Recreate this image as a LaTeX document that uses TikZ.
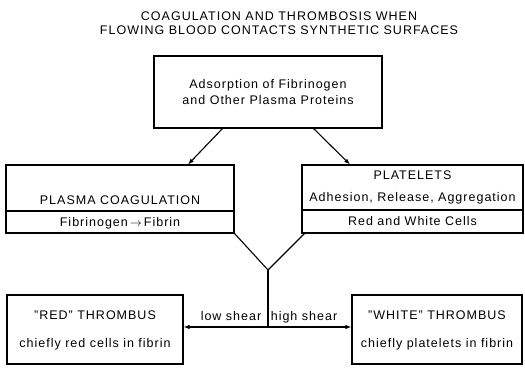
\documentclass[tikz,border=0pt]{standalone}
\usepackage{fontspec}
\setmainfont{Liberation Sans}[LetterSpace=8]
\usetikzlibrary{arrows.meta}
\begin{document}
\begin{tikzpicture}[x=1pt,y=-1pt,
  box/.style={draw,line width=1.2pt,minimum width=#1,inner sep=0pt},
  txt/.style={inner sep=0pt,anchor=base,font=\fontsize{12.5}{14}\selectfont},
  conn/.style={line width=1.1pt},
  arr/.style={line width=1.1pt,-{Latex[length=6pt,width=4.5pt]}},
  every node/.style={font=\fontsize{12.5}{14}\selectfont}]
\useasboundingbox (0,0) rectangle (525,367);
% title
\node[txt] (t1) at (279,20) {COAGULATION AND THROMBOSIS WHEN};
\node[txt] (t2) at (279,34) {FLOWING BLOOD CONTACTS SYNTHETIC SURFACES};
% top box
\node[box=228pt,minimum height=72pt] (top) at (268,92) {};
\node[txt] at (268,88) {Adsorption of Fibrinogen};
\node[txt] at (268,104) {and Other Plasma Proteins};
% left middle
\node[box=228pt,minimum height=46pt] (pc) at (120,188) {};
\node[box=228pt,minimum height=22pt] (pcb) at (120,222) {};
\node[txt] at (120,204) {PLASMA COAGULATION};
\node[txt] at (120,226) {Fibrinogen$\,\rightarrow\,$Fibrin};
% right middle
\node[box=221pt,minimum height=45pt] (pl) at (412.5,187.5) {};
\node[box=221pt,minimum height=23pt] (plb) at (412.5,221.5) {};
\node[txt] at (412.5,179) {PLATELETS};
\node[txt] at (412.5,201.5) {Adhesion, Release, Aggregation};
\node[txt] at (412.5,225.5) {Red and White Cells};
% bottom boxes
\node[box=176pt,minimum height=69pt] (red) at (95,329.5) {};
\node[txt] at (95,319) {''RED'' THROMBUS};
\node[txt] at (95,347) {chiefly red cells in fibrin};
\node[box=170pt,minimum height=69pt] (white) at (437,329.5) {};
\node[txt] at (437,319) {''WHITE'' THROMBUS};
\node[txt] at (437,347) {chiefly platelets in fibrin};
% arrows from top
\coordinate (a1) at (223,128);
\coordinate (a2) at (313,128);
\draw[arr] (a1) -- (188,164.5);
\draw[arr] (a2) -- (350,164.5);
% V and split
\coordinate (v) at (268,270);
\coordinate (s) at (268,327);
\draw[conn] (pcb.south east) -- (v) -- (305,233);
\draw[conn] (v) -- (s);
\draw[arr] (s) -- (red.east |- s);
\draw[arr] (s) -- (white.west |- s);
\node[txt] (low) at (231,320) {low shear};
\node[txt] (high) at (304,320) {high shear};
\end{tikzpicture}
\end{document}
